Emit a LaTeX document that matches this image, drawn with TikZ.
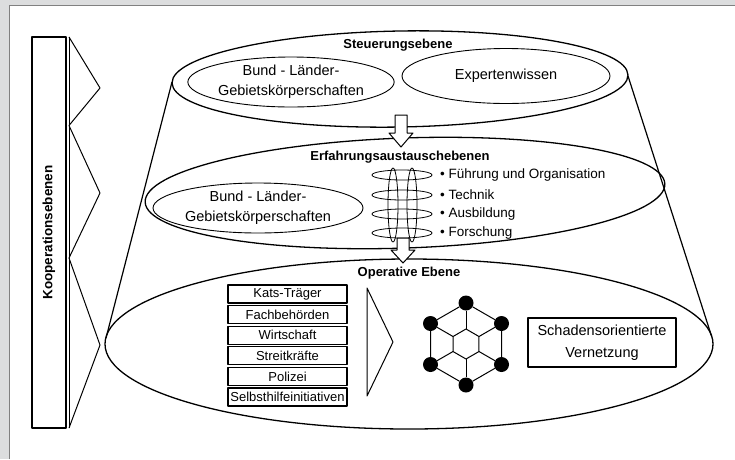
\documentclass[tikz,border=0pt]{standalone}
\usepackage{fontspec}
\setmainfont{Liberation Sans}
\usetikzlibrary{shapes.geometric}

\definecolor{bggray}{RGB}{220,221,222}
\definecolor{framegray}{RGB}{128,128,128}

\tikzset{
  level/.style={font=\fontsize{13}{15}\selectfont\bfseries, inner sep=0pt},
  oval/.style={draw, ellipse, line width=0.9pt, align=center, inner sep=0pt, font=\fontsize{14.5}{20}\selectfont},
  item/.style={font=\fontsize{13.5}{15}\selectfont, anchor=west, inner sep=0pt},
  actor/.style={draw, line width=1.1pt, minimum width=119pt, minimum height=18pt, inner sep=0pt, font=\fontsize{13}{15}\selectfont},
  knot/.style={circle, fill=black, minimum size=15pt, inner sep=0pt},
}

\begin{document}
\begin{tikzpicture}[x=1pt, y=-1pt, line join=round]
			% Rahmen
			\useasboundingbox (0,0) rectangle (735,459);
			\fill[bggray] (0,0) rectangle (735,459);
			\fill[white] (9.5,5.3) rectangle (735,459);
			\draw[framegray, line width=1.5pt] (9.5,459) |- (735,5.3);
			% Kooperationsebenen
			\draw[line width=1.3pt] (32,37) rectangle node[rotate=90, level, font=\fontsize{13.5}{15}\selectfont\bfseries] (koop) {Kooperationsebenen} (66,428);
			\draw[line width=1pt] (69,37) -- (69,428);
			\draw[line width=1pt] (69,37) -- (100,88) -- (69,125.5) -- (100,193) -- (69,258) -- (100,345) -- (69,428);
			% Kegel
			\draw[line width=1.2pt] (172,82) -- (106,338);
			\draw[line width=1.2pt] (628,76) -- (711.5,336);
			\draw[line width=1.3pt, rotate around={1:(400,79)}] (400,79) ellipse [x radius=228, y radius=48];
			\draw[line width=1.3pt, rotate around={2:(405,193)}] (405,193) ellipse [x radius=260, y radius=55];
			\draw[line width=1.3pt] (409,344) ellipse [x radius=304, y radius=85];
			% Steuerungsebene
			\node[level] (steuerung) at (398,45) {Steuerungsebene};
			\node[oval, minimum width=206pt, minimum height=50pt] (bundoben) at (291,82) {Bund - Länder-\\Gebietskörperschaften};
			\node[oval, minimum width=208pt, minimum height=55pt] (experten) at (506,76) {Expertenwissen};
			\draw[line width=1pt, fill=white] (395,115) -- (407,115) -- (407,133) -- (413,133) -- (401,147) -- (389,133) -- (395,133) -- cycle;
			% Erfahrungsaustauschebenen
			\node[level] (erfahrung) at (400,157) {Erfahrungsaustauschebenen};
			\node[oval, minimum width=210pt, minimum height=50pt] (bundmitte) at (258,208) {Bund - Länder-\\Gebietskörperschaften};
			\foreach \y in {175,195,214,233}
				\draw[line width=0.8pt] (402,\y) ellipse [x radius=30, y radius=5];
			\foreach \x in {393,412}
				\draw[line width=0.8pt] (\x,205) ellipse [x radius=5, y radius=37];
			\foreach \txt [count=\i] in {Führung und Organisation, Technik, Ausbildung, Forschung}
				\node[item] (thema\i) at (440,{175+19.3*(\i-1)}) {• \txt};
			\draw[line width=1pt, fill=white] (397,238) -- (409,238) -- (409,250) -- (415,250) -- (403,263) -- (391,250) -- (397,250) -- cycle;
			% Operative Ebene
			\node[level] (operativ) at (409,273) {Operative Ebene};
			\foreach \name [count=\i from 0] in {Kats-Träger, Fachbehörden, Wirtschaft, Streitkräfte, Polizei, Selbsthilfeinitiativen}
				\node[actor] (akteur\i) at (287.5,{294+20.6*\i}) {\name};
			\draw[line width=1pt] (367,288) -- (393,342) -- (367,396) -- cycle;
			% Netz
			\coordinate (netz) at (466,344);
			\foreach \a [count=\k] in {90,30,-30,-90,-150,150} {
				\coordinate (innen\k) at ([shift={(\a:15)}]netz);
				\node[knot] (aussen\k) at ([shift={(\a:41)}]netz) {};
			}
			\draw[line width=1pt] (aussen1) -- (aussen2) -- (aussen3) -- (aussen4) -- (aussen5) -- (aussen6) -- (aussen1);
			\draw[line width=1pt] (innen1) -- (innen2) -- (innen3) -- (innen4) -- (innen5) -- (innen6) -- cycle;
			\foreach \k in {1,...,6}
				\draw[line width=1pt] (aussen\k) -- (innen\k);
			\node[draw, line width=1.1pt, minimum width=148pt, minimum height=49pt, align=center, font=\fontsize{14.5}{22}\selectfont] (schaden) at (602,342.5) {Schadensorientierte\\Vernetzung};
		\end{tikzpicture}
\end{document}
